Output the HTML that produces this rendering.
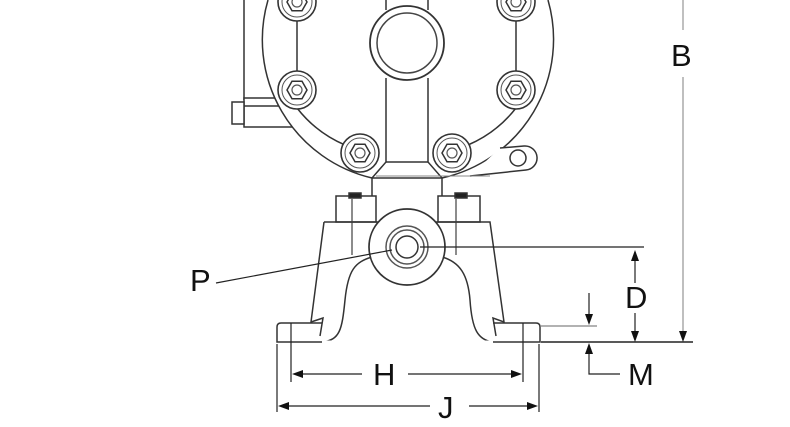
<!DOCTYPE html>
<html><head><meta charset="utf-8"><style>
html,body{margin:0;padding:0;background:#fff;width:790px;height:427px;overflow:hidden}
svg{display:block}
text{font-family:"Liberation Sans",sans-serif;font-size:31px;fill:#111}
</style></head><body>
<svg width="790" height="427" viewBox="0 0 790 427" xmlns="http://www.w3.org/2000/svg">
<defs>
<g id="bolt"><circle r="19" fill="#fff" stroke="#333" stroke-width="1.6"/><circle r="15" fill="none" stroke="#555" stroke-width="1"/><polygon points="10,0 5,8.7 -5,8.7 -10,0 -5,-8.7 5,-8.7" fill="none" stroke="#333" stroke-width="1.5"/><circle r="5" fill="none" stroke="#555" stroke-width="1.2"/></g>
</defs>
<g fill="none" stroke="#333" stroke-width="1.5">
<!-- left appendage -->
<line x1="244" y1="0" x2="244" y2="100"/>
<rect x="244" y="98" width="48" height="29" fill="#fff"/>
<line x1="244" y1="106" x2="290" y2="106"/>
<rect x="232" y="102" width="12" height="22" fill="#fff"/>
<!-- housing outer -->
<path d="M268,0 A142,142 0 0 0 372,178 L442,178 A142,142 0 0 0 548,0" fill="#fff"/>
<!-- right ear -->
<path d="M500,148 L524,146 A12,12 0 0 1 526,170 L470,176" fill="#fff"/>
<circle cx="518" cy="158" r="8"/>
<!-- bolt circle arcs -->
<path d="M297,20 L297,72 M297,108 A121,121 0 0 0 345,145 M516,20 L516,72 M516,108 A121,121 0 0 1 468,145"/>
<!-- neck -->
<path d="M386,78 L386,162 L372,178 L372,196 M428,78 L428,162 L442,178 L442,196"/>
<line x1="386" y1="162" x2="428" y2="162"/>
<line x1="376" y1="176" x2="490" y2="176" stroke="#888" stroke-width="1"/>
<path d="M386,0 L386,10 M428,0 L428,10"/>
<!-- port -->
<circle cx="407" cy="43" r="37" fill="#fff" stroke-width="1.8"/>
<circle cx="407" cy="43" r="30" stroke="#444"/>
</g>
<use href="#bolt" x="297" y="2"/>
<use href="#bolt" x="516" y="2"/>
<use href="#bolt" x="297" y="90"/>
<use href="#bolt" x="516" y="90"/>
<use href="#bolt" x="360" y="153"/>
<use href="#bolt" x="452" y="153"/>
<g fill="none" stroke="#333" stroke-width="1.5">
<!-- base blocks -->
<rect x="336" y="196" width="40" height="26" fill="#fff"/>
<rect x="438" y="196" width="42" height="26" fill="#fff"/>
<rect x="349" y="193" width="12" height="5" fill="#222"/>
<rect x="455" y="193" width="12" height="5" fill="#222"/>
<line x1="352" y1="198" x2="352" y2="255" stroke="#666"/>
<line x1="456" y1="198" x2="456" y2="255" stroke="#666"/>
<!-- pedestal body -->
<path d="M324,222 L490,222 L504,322 L493,318 L496,336 M324,222 L311,322 L323,318 L320,336" />
<path d="M322,342 C340,340 342,330 345,300 C348,270 355,262 372,257 M442,257 C460,262 468,275 470,300 C472,330 478,340 493,342"/>
<!-- feet -->
<path d="M322,323 L281,323 Q277,323 277,327 L277,342 L540,342 L540,327 Q540,323 536,323 L493,323"/>
<line x1="322" y1="342" x2="493" y2="342" stroke="#fff" stroke-width="3"/>
<!-- shaft -->
<circle cx="407" cy="247" r="38" fill="#fff" stroke-width="1.7"/>
<circle cx="407" cy="247" r="21" stroke="#555"/>
<circle cx="407" cy="247" r="17" stroke="#555"/>
<circle cx="407" cy="247" r="11"/>
</g>
<g stroke="#222" stroke-width="1.2" fill="none">
<!-- P leader -->
<path d="M216,283 L392,250"/>
<line x1="420" y1="247" x2="644" y2="247"/>
<!-- D -->
<line x1="635" y1="252" x2="635" y2="283"/>
<line x1="635" y1="313" x2="635" y2="340"/>
<!-- base line -->
<line x1="541" y1="342" x2="693" y2="342" stroke-width="1.5"/>
<line x1="541" y1="326" x2="597" y2="326" stroke="#999" stroke-width="1.5"/>
<!-- B -->
<line x1="683" y1="0" x2="683" y2="30" stroke="#aaa" stroke-width="1.5"/>
<line x1="683" y1="77" x2="683" y2="338" stroke="#aaa" stroke-width="1.5"/>
<!-- small arrow -->
<line x1="589" y1="293" x2="589" y2="320"/>
<!-- M -->
<path d="M589,348 L589,374 L620,374"/>
<!-- H -->
<line x1="291" y1="323" x2="291" y2="382"/>
<line x1="523" y1="323" x2="523" y2="382"/>
<line x1="296" y1="374" x2="362" y2="374"/>
<line x1="408" y1="374" x2="518" y2="374"/>
<!-- J -->
<line x1="277" y1="344" x2="277" y2="412"/>
<line x1="539" y1="344" x2="539" y2="412"/>
<line x1="282" y1="406" x2="430" y2="406"/>
<line x1="469" y1="406" x2="534" y2="406"/>
</g>
<g fill="#111">
<polygon points="635,250 631,261 639,261"/>
<polygon points="635,342 631,331 639,331"/>
<polygon points="683,342 679,331 687,331"/>
<polygon points="589,325 585,314 593,314"/>
<polygon points="589,343 585,354 593,354"/>
<polygon points="292,374 303,370 303,378"/>
<polygon points="522,374 511,370 511,378"/>
<polygon points="278,406 289,402 289,410"/>
<polygon points="538,406 527,402 527,410"/>
</g>
<text x="190" y="291">P</text>
<text x="671" y="66">B</text>
<text x="625" y="308">D</text>
<text x="628" y="385">M</text>
<text x="373" y="385">H</text>
<text x="438" y="418">J</text>
</svg>
</body></html>
